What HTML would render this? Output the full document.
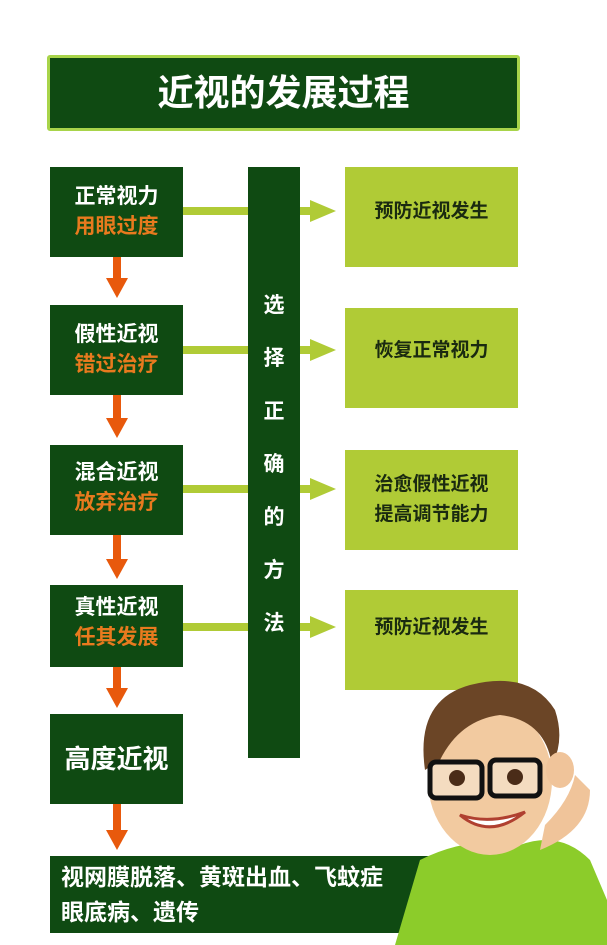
<!DOCTYPE html>
<html><head><meta charset="utf-8"><style>
body{margin:0;width:607px;height:945px;background:#fff;position:relative;overflow:hidden;font-family:"Liberation Sans","Noto Sans CJK SC",sans-serif;font-weight:bold}
.a{position:absolute}
.dg{background:#0f4a12;color:#fff}
.lb{background:#b0cb36;color:#1a2a10;display:flex;align-items:center;justify-content:center;text-align:center;font-size:19px;line-height:30px}
.lt{width:133px;text-align:center;font-size:21px;line-height:30px}
.or{color:#e87a1e}
.bar{background:#b0cb36;height:8px}
.ah{width:0;height:0;border-top:11px solid transparent;border-bottom:11px solid transparent;border-left:26px solid #b0cb36}
.vs{background:#e8590c;width:8px}
.vh{width:0;height:0;border-left:11px solid transparent;border-right:11px solid transparent;border-top:20px solid #e8590c}
</style></head><body>
<div class="a dg" style="left:47px;top:55px;width:467px;height:70px;border:3px solid #a8d44a;border-radius:3px;font-size:36px;line-height:70px;text-align:center">近视的发展过程</div>

<div class="a dg lt" style="left:50px;top:167px;height:90px;padding-top:15px;box-sizing:border-box">正常视力<br><span class="or">用眼过度</span></div>
<div class="a dg lt" style="left:50px;top:305px;height:90px;padding-top:15px;box-sizing:border-box">假性近视<br><span class="or">错过治疗</span></div>
<div class="a dg lt" style="left:50px;top:445px;height:90px;padding-top:13px;box-sizing:border-box">混合近视<br><span class="or">放弃治疗</span></div>
<div class="a dg lt" style="left:50px;top:585px;height:82px;padding-top:8px;box-sizing:border-box">真性近视<br><span class="or">任其发展</span></div>
<div class="a dg lt" style="left:50px;top:714px;height:90px;font-size:26px;line-height:90px">高度近视</div>
<div class="a dg" style="left:50px;top:856px;width:380px;height:77px;font-size:23px;line-height:35px;padding:4px 0 0 11px;box-sizing:border-box">视网膜脱落、黄斑出血、飞蚊症<br>眼底病、遗传</div>

<div class="a vs" style="left:113px;top:257px;height:22px"></div><div class="a vh" style="left:106px;top:278px"></div>
<div class="a vs" style="left:113px;top:395px;height:24px"></div><div class="a vh" style="left:106px;top:418px"></div>
<div class="a vs" style="left:113px;top:535px;height:25px"></div><div class="a vh" style="left:106px;top:559px"></div>
<div class="a vs" style="left:113px;top:667px;height:22px"></div><div class="a vh" style="left:106px;top:688px"></div>
<div class="a vs" style="left:113px;top:804px;height:28px"></div><div class="a vh" style="left:106px;top:830px"></div>

<div class="a bar" style="left:183px;top:207px;width:130px"></div><div class="a ah" style="left:310px;top:200px"></div>
<div class="a bar" style="left:183px;top:346px;width:130px"></div><div class="a ah" style="left:310px;top:339px"></div>
<div class="a bar" style="left:183px;top:485px;width:130px"></div><div class="a ah" style="left:310px;top:478px"></div>
<div class="a bar" style="left:183px;top:623px;width:130px"></div><div class="a ah" style="left:310px;top:616px"></div>

<div class="a dg" style="left:248px;top:167px;width:52px;height:591px;font-size:21px;text-align:center">
<div style="position:absolute;top:112px;width:52px;line-height:53px">选<br>择<br>正<br>确<br>的<br>方<br>法</div></div>

<div class="a lb" style="left:345px;top:167px;width:173px;height:100px;padding-bottom:10px;box-sizing:border-box">预防近视发生</div>
<div class="a lb" style="left:345px;top:308px;width:173px;height:100px;padding-bottom:14px;box-sizing:border-box">恢复正常视力</div>
<div class="a lb" style="left:345px;top:450px;width:173px;height:100px">治愈假性近视<br>提高调节能力</div>
<div class="a lb" style="left:345px;top:590px;width:173px;height:100px;padding-bottom:24px;box-sizing:border-box">预防近视发生</div>

<svg class="a" style="left:370px;top:670px" width="237" height="275" viewBox="370 670 237 275">
<path d="M395 945 L420 860 Q470 835 520 845 Q560 830 590 860 L607 900 L607 945Z" fill="#8ccc2a"/>
<path d="M540 850 Q590 830 590 790 L575 775 Q570 800 545 825Z" fill="#f0c49a"/>
<ellipse cx="490" cy="780" rx="62" ry="75" fill="#f2caa0"/>
<path d="M425 770 Q415 700 470 685 Q530 670 555 710 Q565 740 552 765 Q545 720 500 715 Q460 720 440 760Z" fill="#6b4526"/>
<rect x="430" y="762" width="52" height="36" rx="6" fill="#f4dcc0" stroke="#111" stroke-width="5"/>
<rect x="490" y="760" width="50" height="36" rx="6" fill="#f4dcc0" stroke="#111" stroke-width="5"/>
<circle cx="457" cy="778" r="8" fill="#4a2c18"/><circle cx="515" cy="777" r="8" fill="#4a2c18"/>
<path d="M460 815 Q490 840 525 812 Q490 825 460 815Z" fill="#fff" stroke="#b04030" stroke-width="3"/>
<ellipse cx="560" cy="770" rx="14" ry="18" fill="#f0c49a"/>
</svg>
</body></html>
